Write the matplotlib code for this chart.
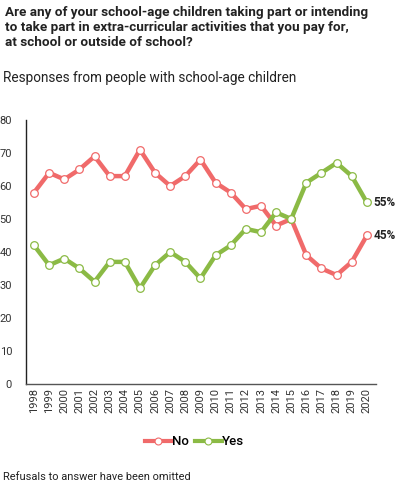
import matplotlib
matplotlib.use("Agg")
import matplotlib.pyplot as plt
from matplotlib.lines import Line2D

years = list(range(1998, 2021))
no_vals = [58, 64, 62, 65, 69, 63, 63, 71, 64, 60, 63, 68, 61, 58, 53, 54, 48, 50, 39, 35, 33, 37, 45]
yes_vals = [42, 36, 38, 35, 31, 37, 37, 29, 36, 40, 37, 32, 39, 42, 47, 46, 52, 50, 61, 64, 67, 63, 55]
yticks = [0, 10, 20, 30, 40, 50, 60, 70, 80]

plt.rcParams['font.family'] = ['Roboto', 'DejaVu Sans']

RED = "#F06A6A"
GREEN = "#8BBA45"

fig = plt.figure(figsize=(3.97, 4.91), dpi=100)
ax = fig.add_axes([0.0655, 0.218, 0.8815, 0.5376])

for vals, col, lab in [(no_vals, RED, "No"), (yes_vals, GREEN, "Yes")]:
    ax.plot(years, vals, color=col, lw=3.2, marker='o', ms=5.5,
            markerfacecolor='white', markeredgecolor=col, markeredgewidth=0.9,
            label=lab, solid_joinstyle='round')

ax.text(years[-1] + 0.45, yes_vals[-1], f"{yes_vals[-1]}%", fontsize=8.5, fontweight='bold',
        va='center', ha='left', color='#222222')
ax.text(years[-1] + 0.45, no_vals[-1], f"{no_vals[-1]}%", fontsize=8.5, fontweight='bold',
        va='center', ha='left', color='#222222')

ax.set_xlim(1997.47, 2020.6)
ax.set_ylim(0, 80)
ax.set_yticks(yticks)
ax.set_xticks(years)
ax.set_xticklabels([str(y) for y in years], rotation=90, fontsize=8, color='#333333')
ax.tick_params(axis='y', labelsize=8, colors='#333333', length=0, pad=10)
ax.tick_params(axis='x', length=0, pad=3)
for s in ['top', 'right']:
    ax.spines[s].set_visible(False)
ax.spines['left'].set_color('#222222')
ax.spines['bottom'].set_color('#555555')
ax.spines['left'].set_linewidth(1.0)
ax.spines['bottom'].set_linewidth(1.0)

handles = [Line2D([0], [0], color=RED, lw=3.0, marker='o', ms=5, markerfacecolor='white',
                  markeredgecolor=RED, markeredgewidth=0.8),
           Line2D([0], [0], color=GREEN, lw=3.0, marker='o', ms=5, markerfacecolor='white',
                  markeredgecolor=GREEN, markeredgewidth=0.8)]
fig.legend(handles, ["No", "Yes"], loc='center', bbox_to_anchor=(0.49, 0.0998), ncol=2,
           frameon=False, handlelength=2.0, handletextpad=0.05, columnspacing=0.5,
           prop={'weight': 'medium', 'size': 9.5})

fig.text(0.012, 0.987, "Are any of your school-age children taking part or intending\n"
         "to take part in extra-curricular activities that you pay for,\n"
         "at school or outside of school?", fontsize=9.7, fontweight='bold', va='top', ha='left',
         color='#222222', linespacing=1.17)
fig.text(0.008, 0.842, "Responses from people with school-age children", fontsize=9.8,
         va='center', ha='left', color='#222222')
fig.text(0.008, 0.028, "Refusals to answer have been omitted", fontsize=7.9,
         va='center', ha='left', color='#222222')

fig.savefig("out.png", dpi=100)
